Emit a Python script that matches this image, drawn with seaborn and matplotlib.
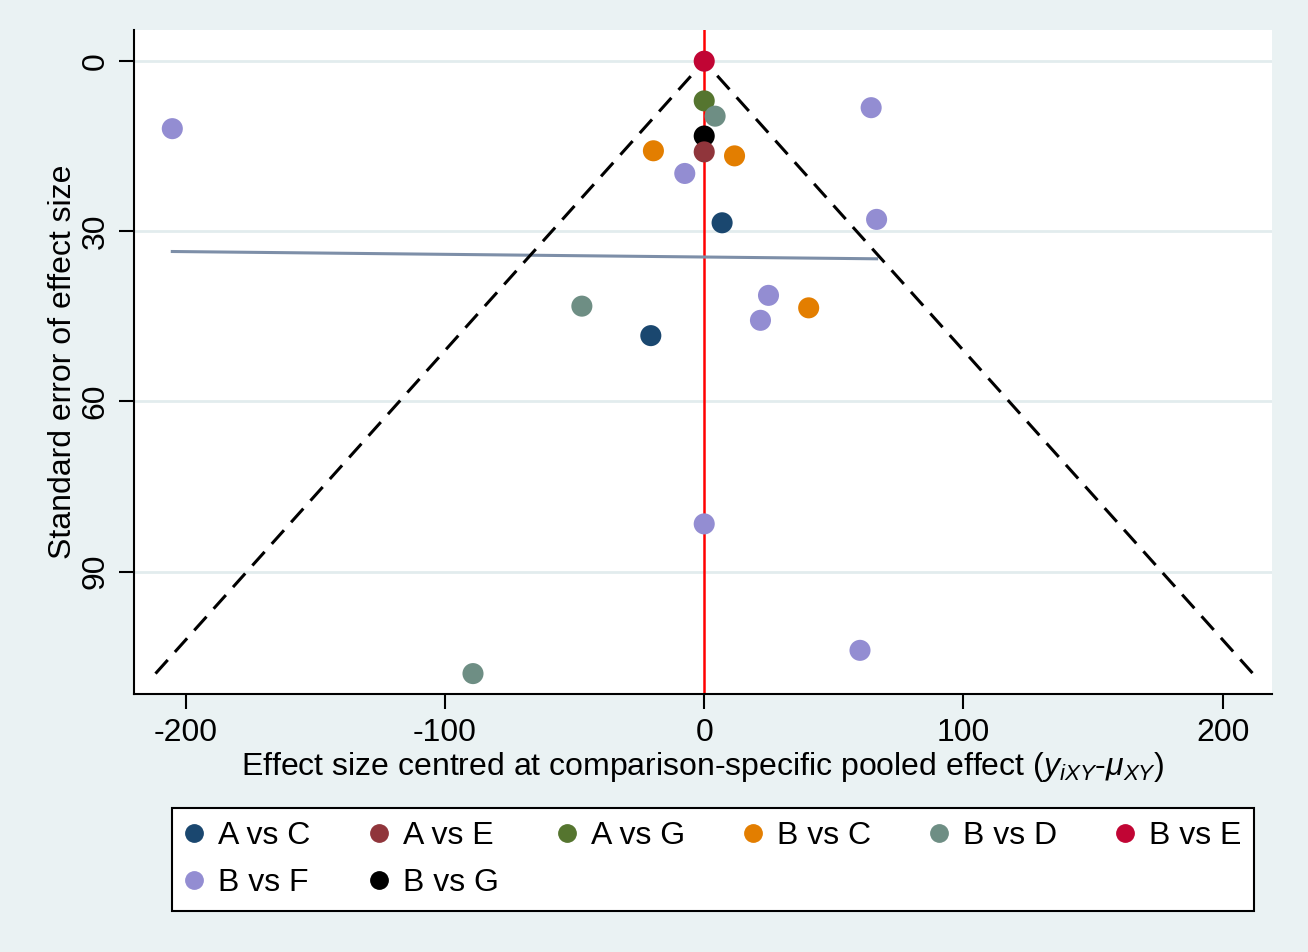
import matplotlib
matplotlib.use("Agg")
import matplotlib.pyplot as plt
from matplotlib.lines import Line2D
import seaborn as sns
import numpy as np
import pandas as pd

# ---- data ----
comparisons = ["B vs E", "A vs G", "B vs D", "B vs G", "A vs E", "B vs C", "B vs C",
               "B vs F", "A vs C", "B vs F", "B vs F", "B vs F", "B vs F", "B vs F",
               "B vs C", "B vs D", "A vs C", "B vs F", "B vs F", "B vs D"]
effect = [0.0, 0.0, 4.2, 0.0, 0.0, -19.6, 11.7, -7.5, 6.9, -205.2, 64.4, 66.5, 24.8,
          21.7, 40.3, -47.2, -20.6, 0.0, 60.1, -89.2]
std_err = [0.0, 7.0, 9.7, 13.2, 16.0, 15.8, 16.7, 19.8, 28.5, 11.9, 8.2, 27.9, 41.3,
           45.7, 43.5, 43.2, 48.4, 81.6, 103.9, 108.0]
hue_order = ["A vs C", "A vs E", "A vs G", "B vs C", "B vs D", "B vs E", "B vs F", "B vs G"]
colors = ["#1a476f", "#90353b", "#55752f", "#e37e00", "#6e8e84", "#c10534", "#938dd2", "#000000"]
x_ticks = [-200, -100, 0, 100, 200]
x_tick_labels = ["-200", "-100", "0", "100", "200"]
y_ticks = [0, 30, 60, 90]
y_tick_labels = ["0", "30", "60", "90"]

df = pd.DataFrame({"comparison": comparisons, "effect": effect, "se": std_err})

plt.rcParams["font.family"] = ["Liberation Sans", "DejaVu Sans"]
plt.rcParams["axes.unicode_minus"] = False
plt.rcParams["mathtext.fontset"] = "custom"
plt.rcParams["mathtext.rm"] = "Liberation Sans"
plt.rcParams["mathtext.it"] = "Liberation Sans:italic"

bg = "#eaf2f3"
fig = plt.figure(figsize=(13.08, 9.52), dpi=100, facecolor=bg)
ax = fig.add_axes([0.1024, 0.271, 0.870, 0.6975])
ax.set_facecolor("white")

# gridlines
for yt in y_ticks:
    ax.axhline(yt, color="#e2ecee", lw=2, zorder=0)

# funnel (pseudo 95% CI lines)
max_se = max(std_err)
ax.plot([-1.96 * max_se, 0, 1.96 * max_se], [max_se, 0, max_se], color="black",
        lw=2.2, ls=(0, (6, 3.5)), zorder=3)

# reference line at zero
ax.axvline(0, color="#ff0000", lw=1.8, zorder=1)

# fitted line of SE on centred effect
slope, intercept = np.polyfit(effect, std_err, 1)
xs = np.array([min(effect), max(effect)])
ax.plot(xs, intercept + slope * xs, color="#7d8fa8", lw=2.2, zorder=2)

sns.scatterplot(data=df, x="effect", y="se", hue="comparison", hue_order=hue_order,
                palette=colors, s=230, edgecolor="none", linewidth=0, ax=ax,
                legend=False, zorder=4)

ax.set_xlim(-220, 219)
ax.set_ylim(111.6, -5.5)
ax.set_xticks(x_ticks)
ax.set_xticklabels(x_tick_labels)
ax.set_yticks(y_ticks)
ax.set_yticklabels(y_tick_labels, rotation=90, va="center")
ax.tick_params(axis="both", length=11, width=1.5, labelsize=23, pad=6, color="black")

for side in ["top", "right"]:
    ax.spines[side].set_visible(False)
for side in ["left", "bottom"]:
    ax.spines[side].set_linewidth(1.5)
    ax.spines[side].set_color("black")

ax.set_xlabel("Effect size centred at comparison-specific pooled effect (" +
              r"$y_{iXY}$" + "-" + r"$\mu_{XY}$" + ")", fontsize=23, labelpad=2)
ax.set_ylabel("Standard error of effect size", fontsize=23, labelpad=2)

# legend filled row by row (matplotlib fills columns), 6 columns
ncol = 6
handles = [Line2D([], [], marker="o", ls="", color=c, markersize=12.5) for c in colors]
n = len(hue_order)
order = []
rows = int(np.ceil(n / ncol))
for col in range(ncol):
    for r in range(rows):
        i = r * ncol + col
        if i < n:
            order.append(i)
leg = fig.legend([handles[i] for i in order], [hue_order[i] for i in order],
                 ncol=ncol, loc="upper left",
                 bbox_to_anchor=(172 / 1308, 1 - 808 / 952),
                 frameon=True, fancybox=False, edgecolor="black", facecolor="white",
                 framealpha=1, fontsize=23, handlelength=0.6, handletextpad=0.45,
                 columnspacing=1.83, borderpad=0.4, labelspacing=0.55,
                 borderaxespad=0)
leg.get_frame().set_linewidth(1.5)

fig.savefig("out.png", dpi=100, facecolor=bg)
